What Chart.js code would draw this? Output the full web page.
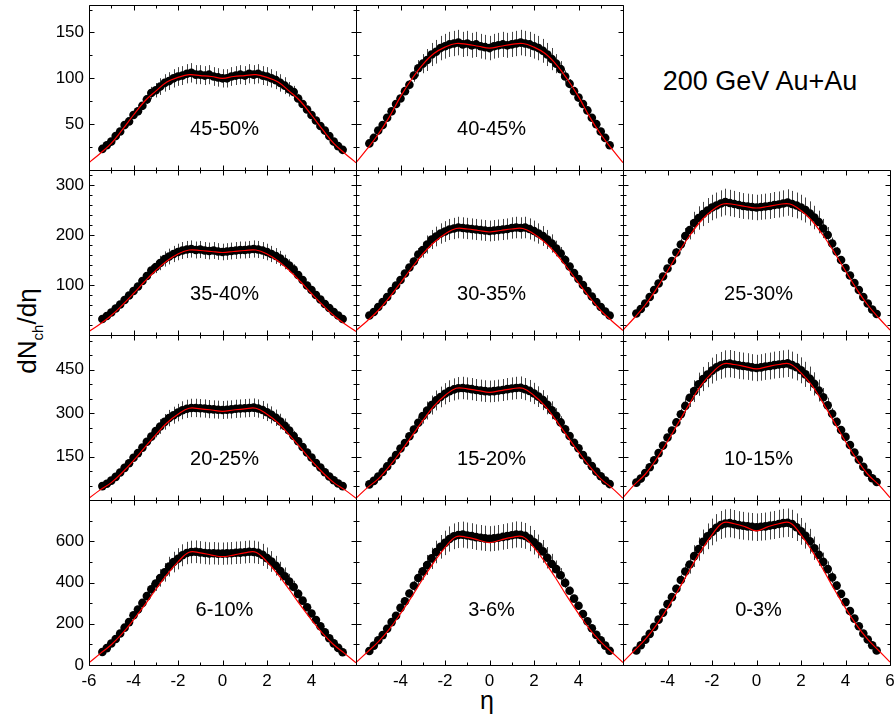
<!DOCTYPE html>
<html>
<head>
<meta charset="utf-8">
<script src="https://cdn.jsdelivr.net/npm/chart.js@4.4.1/dist/chart.umd.min.js"></script>
<style>
  html, body { margin: 0; padding: 0; background: #fff; }
  #wrap { position: relative; width: 896px; height: 719px; overflow: hidden;
          font-family: "Liberation Sans", Arial, sans-serif; color: #000; }
  #wrap canvas { position: absolute; }
  .ttl { position: absolute; white-space: nowrap; transform: translate(-50%, -50%); }
  #sys { left: 760px; top: 81px; font-size: 27px; }
  #ylab { left: 29px; top: 331px; font-size: 26px; transform: translate(-50%, -50%) rotate(-90deg); }
  #ylab sub { font-size: 15px; }
  #xlab { left: 487px; top: 700px; font-size: 25px; }
</style>
</head>
<body>
<div id="wrap">
  <div class="ttl" id="sys">200 GeV Au+Au</div>
  <div class="ttl" id="ylab">dN<sub>ch</sub>/dη</div>
  <div class="ttl" id="xlab">η</div>
</div>
<script>
/* =========================================================
   DATA
========================================================= */
const eta = [-5.4,-5.2,-5.0,-4.8,-4.6,-4.4,-4.2,-4.0,-3.8,-3.6,-3.4,-3.2,-3.0,-2.8,
  -2.6,-2.4,-2.2,-2.0,-1.8,-1.6,-1.4,-1.2,-1.0,-0.8,-0.6,-0.4,-0.2,0,
  0.2,0.4,0.6,0.8,1.0,1.2,1.4,1.6,1.8,2.0,2.2,2.4,2.6,2.8,
  3.0,3.2,3.4,3.6,3.8,4.0,4.2,4.4,4.6,4.8,5.0,5.2,5.4];

// relative error bar half-length at each eta
const relErr = [0.03,0.03,0.03,0.03,0.035,0.04,0.04,0.045,0.05,0.055,0.065,0.08,0.09,
  0.10,0.10,0.10,0.10,0.10,0.10,0.10,0.10,0.10,0.10,0.10,0.10,0.10,0.10,0.10,
  0.10,0.10,0.10,0.10,0.10,0.10,0.10,0.10,0.10,0.10,0.10,0.10,0.10,0.10,
  0.09,0.08,0.065,0.055,0.05,0.045,0.04,0.04,0.035,0.03,0.03,0.03,0.03];

const fitEta = [-6,-5.5,-5,-4.5,-4,-3.5,-3,-2.5,-2,-1.5,-1,-0.5,0,0.5,1,1.5,2,2.5,3,3.5,4,4.5,5,5.5,6];

const dn4550 = [23,27,31,37,42,49,53,60,64,70,77,84,87,91,95,97,100,102,103,105,106,104,104,103,104,102,101,100,
  100,102,103,104,103,105,104,105,103,102,100,98,95,92,88,85,78,72,66,60,54,48,43,37,31,26,22];
const dn4045 = [29,35,43,49,57,64,72,78,86,93,103,111,116,120,126,129,133,135,137,138,139,137,138,136,137,135,134,133,
  135,136,137,136,137,138,139,138,137,135,133,130,126,121,116,110,102,94,86,79,72,65,57,50,42,35,27];
const dn3540 = [32,38,45,53,61,70,79,88,97,108,118,129,136,144,152,157,162,166,169,171,172,170,171,169,168,169,167,166,
  167,168,169,170,170,171,172,171,169,166,162,158,153,146,139,131,120,110,99,90,80,71,62,54,46,39,32];
const dn3035 = [39,46,56,66,76,88,99,110,123,135,147,161,170,181,191,197,203,207,211,213,215,214,213,212,211,210,209,208,
  209,210,211,212,214,215,214,215,212,208,203,198,191,183,173,163,150,137,124,112,100,88,77,66,56,47,39];
const dn2530 = [43,52,63,76,90,103,117,133,148,165,181,198,210,224,234,242,249,255,259,263,266,264,262,260,258,257,256,255,
  256,257,258,260,261,263,265,262,259,255,250,243,235,226,213,200,183,167,150,134,119,104,90,76,63,51,42];
const dn2025 = [48,56,67,80,95,111,127,146,162,181,201,219,238,254,270,283,293,302,310,315,318,318,317,316,314,313,312,311,
  312,313,315,316,317,318,319,316,311,303,294,284,271,256,240,221,203,183,164,147,128,112,96,81,68,57,48];
const dn1520 = [54,66,81,97,116,135,155,178,197,220,243,267,290,309,328,344,356,367,376,382,386,387,385,383,380,378,376,375,
  376,378,380,383,385,387,388,383,377,368,357,345,329,310,291,268,244,221,198,179,155,136,117,98,82,67,55];
const dn1015 = [60,74,93,113,137,162,188,216,240,268,296,325,353,376,400,418,433,447,458,465,470,471,468,465,463,461,458,456,
  458,461,463,466,468,470,472,466,459,448,434,419,401,378,355,327,298,270,242,218,190,164,139,115,94,75,62];
const dn0610 = [63,82,104,126,153,181,208,241,269,301,334,367,395,422,449,477,499,515,532,543,548,549,546,543,541,542,540,540,
  541,542,544,545,547,549,548,544,534,518,502,481,455,430,405,378,345,312,280,250,218,188,158,130,105,83,62];
const dn0306 = [68,94,120,145,176,208,239,277,309,347,384,422,454,485,517,548,573,592,611,624,630,632,628,625,620,617,614,612,
  614,617,621,625,629,633,631,626,613,595,575,551,520,490,465,435,398,360,322,287,247,212,178,146,120,94,69];
const dn0003 = [70,96,123,151,185,220,254,295,329,370,412,453,487,528,562,597,624,645,665,679,686,688,683,678,675,672,670,668,
  670,672,676,679,684,688,690,684,668,648,627,600,566,534,500,465,425,385,345,305,262,225,188,153,124,96,70];

const fit4550 = [8,18,29,44,60,75,86,96,101,104,103,102,100,102,103,104,101,96,86,75,60,44,29,18,8];
const fit4045 = [8,23,39,58,80,99,115,127,134,138,137,135,133,135,137,138,134,127,115,99,80,58,39,23,8];
const fit3540 = [7,22,39,60,83,107,129,148,162,170,169,167,165,167,169,170,162,148,129,107,83,60,39,22,7];
const fit3035 = [9,28,49,75,104,134,162,185,202,213,212,209,206,209,212,213,202,185,162,134,104,75,49,28,9];
const fit2530 = [10,34,60,92,128,165,199,228,249,262,261,257,254,257,261,262,249,228,199,165,128,92,60,34,10];
const fit2025 = [6,35,60,95,136,181,225,266,296,317,315,311,306,311,315,317,296,266,225,181,136,95,60,35,6];
const fit1520 = [6,42,73,116,166,220,274,324,361,386,384,378,372,378,384,386,361,324,274,220,166,116,73,42,6];
const fit1015 = [8,52,89,141,202,268,334,395,439,470,468,461,453,461,468,470,439,395,334,268,202,141,89,52,8];
const fit0610 = [11,55,98,153,219,290,366,438,500,547,544,533,525,533,544,547,500,438,366,290,219,153,98,55,11];
const fit0306 = [12,62,112,174,249,330,417,498,569,622,619,606,593,606,619,622,569,498,417,330,249,174,112,62,12];
const fit0003 = [14,69,124,193,276,366,462,552,631,690,685,670,650,670,685,690,631,552,462,366,276,193,124,69,14];

// axis ranges and tick labels
const yMaxByRow = [180, 330, 570, 800];
const yLabelsByRow = [[50, 100, 150], [100, 200, 300], [150, 300, 450], [0, 200, 400, 600]];
const yMajorStep = [50, 100, 150, 200];
const yMinorStep = [25, 20, 50, 100];
const xLabelsByCol = [[-6, -4, -2, 0, 2, 4], [-4, -2, 0, 2, 4], [-4, -2, 0, 2, 4, 6]];

const panels = [
  { label: "45-50%", row: 0, col: 0, dn: dn4550, fit: fit4550 },
  { label: "40-45%", row: 0, col: 1, dn: dn4045, fit: fit4045 },
  { label: "35-40%", row: 1, col: 0, dn: dn3540, fit: fit3540 },
  { label: "30-35%", row: 1, col: 1, dn: dn3035, fit: fit3035 },
  { label: "25-30%", row: 1, col: 2, dn: dn2530, fit: fit2530 },
  { label: "20-25%", row: 2, col: 0, dn: dn2025, fit: fit2025 },
  { label: "15-20%", row: 2, col: 1, dn: dn1520, fit: fit1520 },
  { label: "10-15%", row: 2, col: 2, dn: dn1015, fit: fit1015 },
  { label: "6-10%",  row: 3, col: 0, dn: dn0610, fit: fit0610 },
  { label: "3-6%",   row: 3, col: 1, dn: dn0306, fit: fit0306 },
  { label: "0-3%",   row: 3, col: 2, dn: dn0003, fit: fit0003 }
];

/* =========================================================
   LAYOUT
========================================================= */
const colX = [89, 356, 623], colW = 267;
const rowY = [5, 170, 335, 500], rowH = 165;
const padL = 60, padT = 10, padR = 10, padB = 45;
const FONT = '"Liberation Sans", Arial, sans-serif';

Chart.defaults.color = "#000";

/* =========================================================
   FRAME / TICKS / ERROR BARS PLUGIN
========================================================= */
function panelPlugin(p) {
  return {
    id: "panel",
    beforeDatasetsDraw(chart) {
      const { ctx, chartArea: a } = chart;
      const xs = chart.scales.x, ys = chart.scales.y;
      ctx.save();
      ctx.beginPath();
      ctx.rect(a.left, a.top, a.right - a.left, a.bottom - a.top);
      ctx.clip();
      ctx.strokeStyle = "#444";
      ctx.lineWidth = 1;
      ctx.beginPath();
      eta.forEach((e, k) => {
        const v = p.dn[k], d = v * relErr[k];
        const px = Math.round(xs.getPixelForValue(e)) + 0.5;
        ctx.moveTo(px, ys.getPixelForValue(v + d));
        ctx.lineTo(px, ys.getPixelForValue(v - d));
      });
      ctx.stroke();
      ctx.restore();
    },
    afterDatasetsDraw(chart) {
      const { ctx, chartArea: a } = chart;
      const xs = chart.scales.x, ys = chart.scales.y;
      const L = a.left + 0.5, R = a.right + 0.5, T = a.top + 0.5, B = a.bottom + 0.5;
      ctx.save();
      ctx.strokeStyle = "#000";
      ctx.lineWidth = 1;
      ctx.beginPath();
      ctx.rect(L, T, R - L, B - T);

      // x ticks, top and bottom, pointing in
      for (let v = -6; v <= 6; v++) {
        const px = Math.round(xs.getPixelForValue(v)) + 0.5;
        const len = v % 2 === 0 ? 5 : 3;
        ctx.moveTo(px, B); ctx.lineTo(px, B - len);
        ctx.moveTo(px, T); ctx.lineTo(px, T + len);
      }
      // y ticks, left and right, pointing in
      const ymax = yMaxByRow[p.row];
      for (let v = 0; v <= ymax; v += yMinorStep[p.row]) {
        const py = Math.round(ys.getPixelForValue(v)) + 0.5;
        const len = v % yMajorStep[p.row] === 0 ? 5 : 3;
        ctx.moveTo(L, py); ctx.lineTo(L + len, py);
        ctx.moveTo(R, py); ctx.lineTo(R - len, py);
      }
      ctx.stroke();

      ctx.fillStyle = "#000";
      ctx.font = "20px " + FONT;
      ctx.textAlign = "center";
      ctx.textBaseline = "middle";
      const frac = p.row === 3 ? 0.67 : 0.755;
      ctx.fillText(p.label, (a.left + a.right) / 2 + 2, a.top + frac * (a.bottom - a.top));
      ctx.restore();
    }
  };
}

/* =========================================================
   BUILD PANELS
========================================================= */
const wrap = document.getElementById("wrap");

panels.forEach(p => {
  const w = colW + padL + padR, h = rowH + padT + padB;
  const cv = document.createElement("canvas");
  cv.width = w; cv.height = h;
  cv.style.width = w + "px"; cv.style.height = h + "px";
  cv.style.left = (colX[p.col] - padL) + "px";
  cv.style.top = (rowY[p.row] - padT) + "px";
  wrap.appendChild(cv);

  new Chart(cv, {
    type: "scatter",
    data: {
      datasets: [
        {
          type: "line",
          data: fitEta.map((x, k) => ({ x, y: p.fit[k] })),
          borderColor: "#ff0000",
          borderWidth: 1.2,
          pointRadius: 0,
          tension: 0.4,
          fill: false,
          order: 0
        },
        {
          data: eta.map((x, k) => ({ x, y: p.dn[k] })),
          pointRadius: 4.3,
          backgroundColor: "#000",
          borderWidth: 0,
          order: 1
        }
      ]
    },
    options: {
      responsive: false,
      animation: false,
      devicePixelRatio: 1,
      events: [],
      layout: { padding: { left: 0, top: padT, right: padR, bottom: 0 } },
      plugins: { legend: { display: false }, tooltip: { enabled: false } },
      scales: {
        x: {
          type: "linear", min: -6, max: 6,
          grid: { display: false, drawTicks: false },
          border: { display: false },
          ticks: {
            display: p.row === 3, padding: 6, autoSkip: false, maxRotation: 0,
            font: { family: FONT, size: 17 }, color: "#000",
            callback: v => String(v)
          },
          afterBuildTicks: s => { s.ticks = xLabelsByCol[p.col].map(v => ({ value: v })); },
          afterFit: s => { s.height = padB; s.paddingLeft = 0; s.paddingRight = 0; }
        },
        y: {
          type: "linear", min: 0, max: yMaxByRow[p.row],
          grid: { display: false, drawTicks: false },
          border: { display: false },
          ticks: {
            display: p.col === 0, padding: 5, autoSkip: false,
            font: { family: FONT, size: 17 }, color: "#000",
            callback: v => String(v)
          },
          afterBuildTicks: s => { s.ticks = yLabelsByRow[p.row].map(v => ({ value: v })); },
          afterFit: s => { s.width = padL; s.paddingTop = 0; s.paddingBottom = 0; }
        }
      }
    },
    plugins: [panelPlugin(p)]
  });
});
</script>
</body>
</html>
